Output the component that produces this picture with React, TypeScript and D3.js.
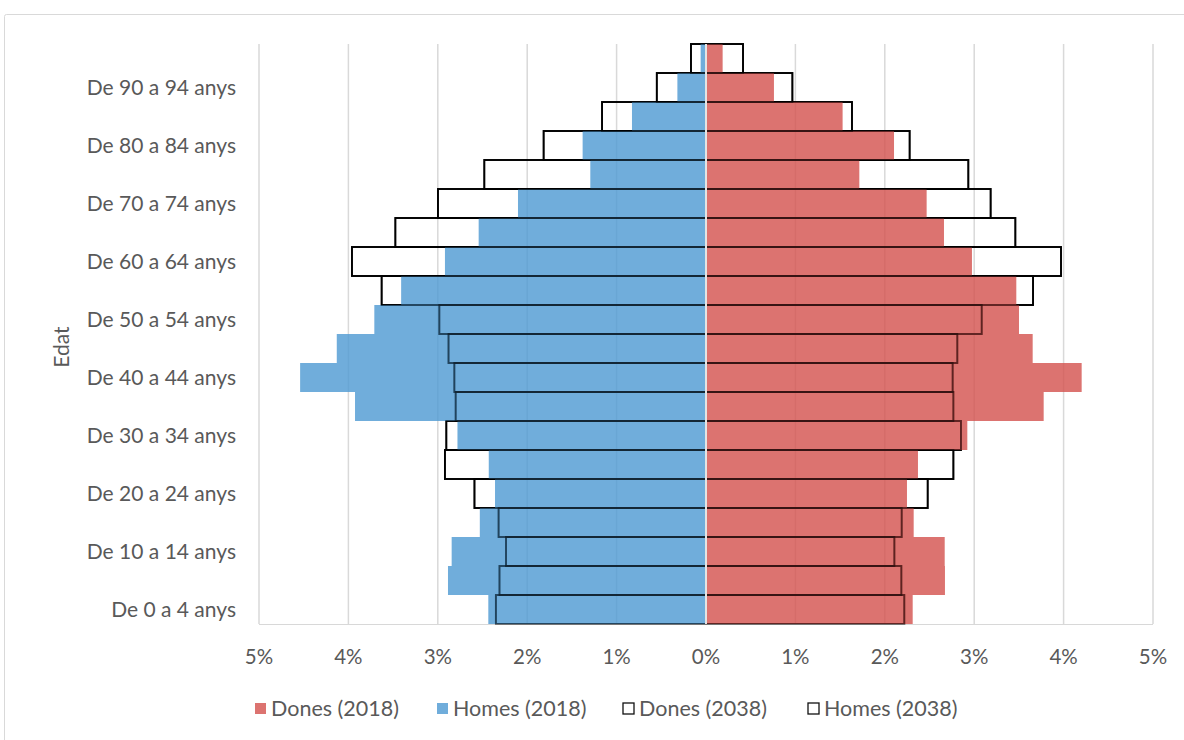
import React from "react";
import * as d3 from "d3";

const categories = [
  "De 0 a 4 anys", "De 5 a 9 anys", "De 10 a 14 anys", "De 15 a 19 anys",
  "De 20 a 24 anys", "De 25 a 29 anys", "De 30 a 34 anys", "De 35 a 39 anys",
  "De 40 a 44 anys", "De 45 a 49 anys", "De 50 a 54 anys", "De 55 a 59 anys",
  "De 60 a 64 anys", "De 65 a 69 anys", "De 70 a 74 anys", "De 75 a 79 anys",
  "De 80 a 84 anys", "De 85 a 89 anys", "De 90 a 94 anys", "De 95 a 99 anys",
];
const homes2018 = [2.435, 2.886, 2.845, 2.53, 2.36, 2.43, 2.78, 3.926, 4.54, 4.13, 3.71, 3.41, 2.92, 2.543, 2.103, 1.294, 1.38, 0.828, 0.32, 0.06];
const homes2038 = [2.35, 2.31, 2.237, 2.32, 2.59, 2.92, 2.905, 2.8, 2.815, 2.88, 2.983, 3.628, 3.96, 3.475, 2.998, 2.48, 1.816, 1.163, 0.55, 0.168];
const dones2018 = [2.312, 2.673, 2.67, 2.323, 2.248, 2.371, 2.923, 3.777, 4.202, 3.654, 3.501, 3.471, 2.975, 2.662, 2.468, 1.715, 2.103, 1.528, 0.76, 0.186];
const dones2038 = [2.218, 2.185, 2.107, 2.189, 2.48, 2.767, 2.852, 2.767, 2.759, 2.811, 3.084, 3.658, 3.971, 3.46, 3.184, 2.934, 2.278, 1.633, 0.966, 0.414];
const xTicks = [-5, -4, -3, -2, -1, 0, 1, 2, 3, 4, 5];
const legendLabels = ["Dones (2018)", "Homes (2018)", "Dones (2038)", "Homes (2038)"];

const FONT = "Lato, 'Noto Sans', sans-serif";
const TEXT = "#595959";
const RED = "#D3504C";
const BLUE = "#4C98D2";

export default function App() {
  const W = 1184, H = 740;
  const x = d3.scaleLinear().domain([-5, 5]).range([259, 1153]);
  const y = d3.scaleBand<string>().domain([...categories].reverse()).range([44, 624]).padding(0);
  const bw = y.bandwidth();
  const x0 = x(0);

  const legendX = [255, 437, 623, 808];
  const legendFill = [RED, BLUE, "white", "white"];

  const outlines = (op: number, key: string) =>
    categories.map((c, i) => (
      <g key={key + c} opacity={op}>
        <rect x={x(-homes2038[i])} y={y(c)} width={x0 - x(-homes2038[i])} height={bw}
          fill="none" stroke="#000" strokeWidth={1.9} />
        <rect x={x0} y={y(c)} width={x(dones2038[i]) - x0} height={bw}
          fill="none" stroke="#000" strokeWidth={1.9} />
      </g>
    ));

  return (
    <svg width={W} height={H} style={{ position: "absolute", left: 0, top: 0, background: "white" }}>
      <rect x={4.5} y={14.5} width={1200} height={740} fill="white" stroke="#D9D9D9" strokeWidth={1} rx={2} />
      {/* gridlines */}
      {xTicks.map((t) => (
        <line key={"g" + t} x1={x(t)} x2={x(t)} y1={44} y2={624} stroke="#D9D9D9" strokeWidth={1.5} />
      ))}
      {/* 2038 outlines (under) */}
      {outlines(1, "o")}
      {/* 2018 bars */}
      {categories.map((c, i) => (
        <g key={"b" + c}>
          <rect x={x(-homes2018[i])} y={y(c)} width={x0 - x(-homes2018[i])} height={bw}
            fill={BLUE} fillOpacity={0.8} />
          <rect x={x0} y={y(c)} width={x(dones2018[i]) - x0} height={bw}
            fill={RED} fillOpacity={0.8} />
        </g>
      ))}
      {/* 2038 outlines (over, faint) */}
      {outlines(0.45, "p")}
      {/* zero axis */}
      <line x1={x0} x2={x0} y1={44} y2={624} stroke="#E4E4E4" strokeWidth={2} />
      <line x1={259} x2={1153} y1={624.5} y2={624.5} stroke="#BFBFBF" strokeWidth={1} opacity={0.6} />
      {/* x tick labels */}
      {xTicks.map((t) => (
        <text key={"t" + t} x={x(t)} y={664} textAnchor="middle" fontFamily={FONT} fontSize={20.5} fill={TEXT}>
          {Math.abs(t) + "%"}
        </text>
      ))}
      {/* y labels */}
      {categories.map((c, i) =>
        i % 2 === 0 ? (
          <text key={"l" + c} x={236} y={(y(c) as number) + bw / 2} dy="0.35em" textAnchor="end"
            fontFamily={FONT} fontSize={21} fill={TEXT}>
            {c}
          </text>
        ) : null
      )}
      <text transform={`translate(69,347) rotate(-90)`} textAnchor="middle" fontFamily={FONT} fontSize={21} fill={TEXT}>
        Edat
      </text>
      {/* legend */}
      {legendLabels.map((l, i) => (
        <g key={"lg" + l}>
          <rect x={legendX[i]} y={703} width={11} height={11}
            fill={legendFill[i] === "white" ? "white" : legendFill[i]}
            fillOpacity={legendFill[i] === "white" ? 1 : 0.8}
            stroke={legendFill[i] === "white" ? "#111" : "none"} strokeWidth={1.3} />
          <text x={legendX[i] + 16} y={716} fontFamily={FONT} fontSize={21.5} fill={TEXT}>{l}</text>
        </g>
      ))}
    </svg>
  );
}
